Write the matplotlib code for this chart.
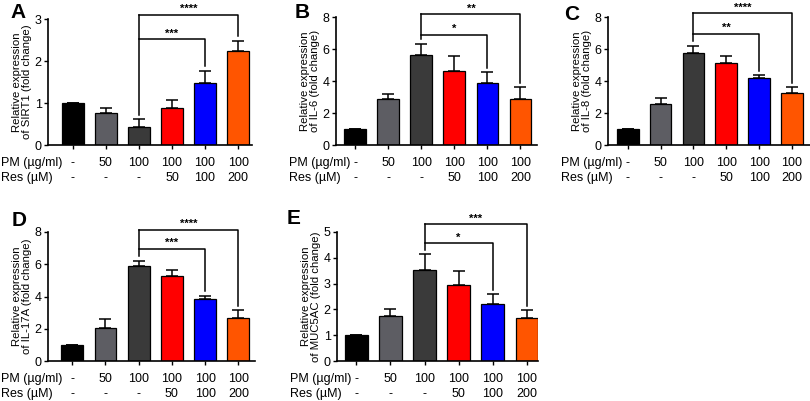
import matplotlib
matplotlib.use("Agg")
import matplotlib.pyplot as plt

plt.rcParams['font.family'] = ['Liberation Sans', 'DejaVu Sans']

pm_labels = ["-", "50", "100", "100", "100", "100"]
res_labels = ["-", "-", "-", "50", "100", "200"]
bar_colors = ["#000000", "#5d5d63", "#3a3a3a", "#ff0000", "#0000ff", "#ff5500"]

sirt1_mean = [1.0, 0.77, 0.44, 0.89, 1.47, 2.25]
sirt1_err = [0.0, 0.12, 0.17, 0.18, 0.30, 0.23]
il6_mean = [1.0, 2.87, 5.65, 4.64, 3.87, 2.89]
il6_err = [0.0, 0.29, 0.67, 0.91, 0.68, 0.71]
il8_mean = [1.0, 2.54, 5.72, 5.13, 4.16, 3.28]
il8_err = [0.0, 0.41, 0.48, 0.44, 0.21, 0.34]
il17a_mean = [1.0, 2.02, 5.9, 5.26, 3.86, 2.64]
il17a_err = [0.0, 0.60, 0.33, 0.37, 0.18, 0.51]
muc5ac_mean = [1.0, 1.75, 3.54, 2.95, 2.2, 1.66]
muc5ac_err = [0.0, 0.26, 0.60, 0.55, 0.39, 0.31]

# significance: (target bar index, line height, stars)
sirt1_sig = [(4, 2.52, "***"), (5, 3.1, "****")]
il6_sig = [(4, 6.9, "*"), (5, 8.17, "**")]
il8_sig = [(4, 6.96, "**"), (5, 8.25, "****")]
il17a_sig = [(4, 6.97, "***"), (5, 8.14, "****")]
muc5ac_sig = [(4, 4.57, "*"), (5, 5.3, "***")]

fig = plt.figure(figsize=(8.1, 4.01), dpi=100)
W, H = 810, 401


def make_ax(left, right, top, bottom):
    return fig.add_axes([left / W, 1 - bottom / H, (right - left) / W, (bottom - top) / H])


panels = [
    dict(letter="A", loff=(-30, 7), box=(48, 252, 19, 145), xlim=(-0.75, 5.42), ylim=(0, 3), yt=[0, 1, 2, 3],
         mean=sirt1_mean, err=sirt1_err, sig=sirt1_sig, gene="SIRT1"),
    dict(letter="B", loff=(-34, 4), box=(336, 537, 17, 145), xlim=(-0.58, 5.5), ylim=(0, 8), yt=[0, 2, 4, 6, 8],
         mean=il6_mean, err=il6_err, sig=il6_sig, gene="IL-6"),
    dict(letter="C", loff=(-36, 3), box=(608, 810, 17, 145), xlim=(-0.6, 5.55), ylim=(0, 8), yt=[0, 2, 4, 6, 8],
         mean=il8_mean, err=il8_err, sig=il8_sig, gene="IL-8"),
    dict(letter="D", loff=(-29, 12), box=(48, 255, 232, 361), xlim=(-0.73, 5.5), ylim=(0, 8), yt=[0, 2, 4, 6, 8],
         mean=il17a_mean, err=il17a_err, sig=il17a_sig, gene="IL-17A"),
    dict(letter="E", loff=(-43, 13), box=(337, 538, 232, 361), xlim=(-0.57, 5.33), ylim=(0, 5), yt=[0, 1, 2, 3, 4, 5],
         mean=muc5ac_mean, err=muc5ac_err, sig=muc5ac_sig, gene="MUC5AC"),
]

fs = 9
for p in panels:
    ax = make_ax(*p["box"])
    x = list(range(len(p["mean"])))
    ax.bar(x, p["mean"], width=0.66, color=bar_colors, edgecolor="black", linewidth=0.9, zorder=2)
    ax.errorbar(x, p["mean"], yerr=[[0] * len(x), p["err"]], fmt="none", ecolor="black",
                elinewidth=1.1, capsize=4.3, capthick=1.1, zorder=1)
    ax.set_xlim(*p["xlim"])
    ax.set_ylim(*p["ylim"])
    ax.set_yticks(p["yt"])
    ax.set_yticklabels([str(v) for v in p["yt"]], fontsize=fs)
    ax.set_xticks(x)
    ax.set_xticklabels([])
    for s in ["top", "right"]:
        ax.spines[s].set_visible(False)
    for s in ["left", "bottom"]:
        ax.spines[s].set_linewidth(1.2)
    ax.tick_params(axis="both", width=1.0, length=3, pad=1.5)
    ax.set_ylabel("Relative expression\nof " + p["gene"] + " (fold change)", fontsize=8.2,
                  labelpad=2, linespacing=1.0)
    # significance brackets
    ref = 2
    ref_top = p["mean"][ref] + p["err"][ref]
    span = p["ylim"][1]
    gap = 0.035 * span
    hmax = max(h for _, h, _ in p["sig"])
    ax.plot([ref, ref], [ref_top + gap, hmax], color="black", lw=1.1, clip_on=False)
    for tgt, h, stars in p["sig"]:
        ttop = p["mean"][tgt] + p["err"][tgt]
        ax.plot([ref, tgt, tgt], [h, h, ttop + gap], color="black", lw=1.1, clip_on=False)
        ax.text((ref + tgt) / 2, h + 0.005 * span, stars, ha="center", va="bottom",
                fontsize=8, fontweight="bold", clip_on=False)
    # category rows
    for i in x:
        ax.annotate(pm_labels[i], xy=(i, 0), xycoords=("data", "axes fraction"),
                    xytext=(0, -18), textcoords="offset pixels", ha="center", va="center", fontsize=fs)
        ax.annotate(res_labels[i], xy=(i, 0), xycoords=("data", "axes fraction"),
                    xytext=(0, -33), textcoords="offset pixels", ha="center", va="center", fontsize=fs)
    ax.annotate("PM (µg/ml)", xy=(0, 0), xycoords="axes fraction", xytext=(-47, -18),
                textcoords="offset pixels", ha="left", va="center", fontsize=fs)
    ax.annotate("Res (µM)", xy=(0, 0), xycoords="axes fraction", xytext=(-47, -33),
                textcoords="offset pixels", ha="left", va="center", fontsize=fs)
    ax.annotate(p["letter"], xy=(0, 1), xycoords="axes fraction", xytext=p["loff"],
                textcoords="offset pixels", ha="center", va="center", fontsize=15, fontweight="bold")

fig.savefig("out.png", dpi=100)
